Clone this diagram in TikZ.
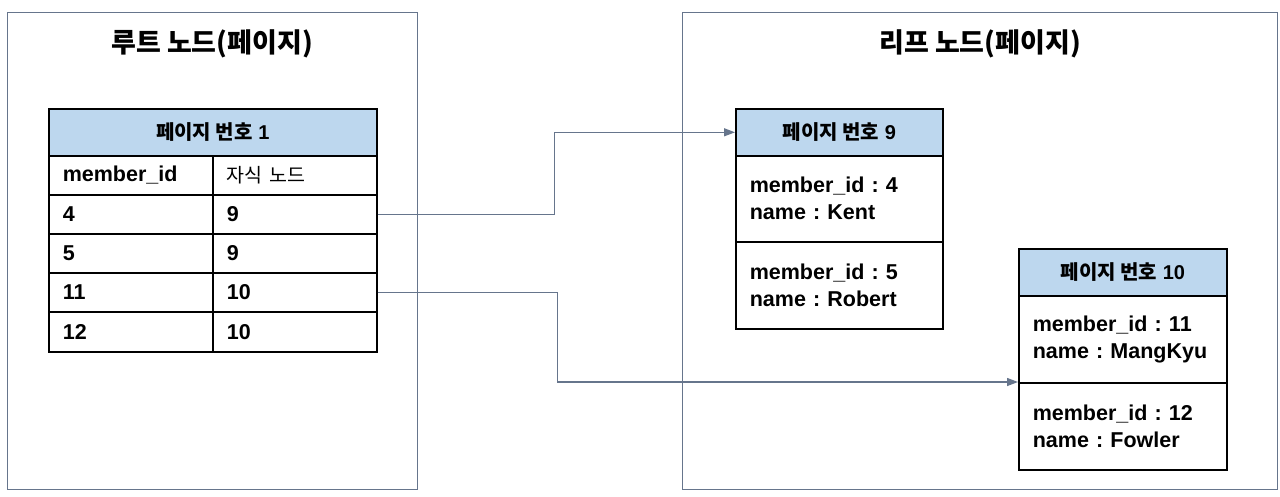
\documentclass[tikz,border=0pt]{standalone}
\usepackage{fontspec}
\setmainfont{Liberation Sans}
\newfontfamily\kr{Noto Sans CJK KR}
\usetikzlibrary{arrows.meta}
\definecolor{frame}{RGB}{102,117,140}
\definecolor{hdr}{RGB}{189,215,238}
\frenchspacing
\tikzset{
  container/.style={draw=frame, line width=1.2pt, anchor=north west, inner sep=0pt, fill=white},
  title/.style={font=\kr\bfseries\fontsize{27}{32}\selectfont, inner sep=0pt},
  hdrcell/.style={draw=black, line width=1.6pt, fill=hdr, anchor=north west, inner sep=0pt,
    font=\bfseries\fontsize{20}{24}\selectfont},
  cell/.style={draw=black, line width=1.6pt, anchor=north west, minimum height=39pt,
    text width=136pt, inner xsep=14pt, inner ysep=0pt, align=left,
    font=\bfseries\fontsize{21.5}{25}\selectfont},
  entry/.style={draw=black, line width=1.6pt, anchor=north west,
    inner xsep=14pt, inner ysep=0pt, align=left,
    font=\frenchspacing\bfseries\fontsize{21.5}{27}\selectfont},
  conn/.style={draw=frame, line width=1.3pt, -{Triangle[length=11pt,width=8pt]}},
}
\begin{document}
\begin{tikzpicture}[x=1pt,y=-1pt]
\useasboundingbox (0,0) rectangle (1280,496);
% containers
\node[container, minimum width=410pt, minimum height=477pt] (rootbox) at (7,12) {};
\node[container, minimum width=595pt, minimum height=477pt] (leafbox) at (682,12) {};
\node[title] (t1) at (212,44) {루트 노드(페이지)};
\node[title] (t2) at (980,44) {리프 노드(페이지)};
% root table
\node[hdrcell, minimum width=328pt, minimum height=47pt] (h1) at (48,108) {{\kr\bfseries 페이지 번호} \textbf{1}};
\node[cell] (c01) at (48,155) {member\_id};
\node[cell] (c02) at (212,155) {\kr\mdseries\fontsize{19.5}{24}\selectfont 자식 노드};
\node[cell] (c11) at (48,194) {4};
\node[cell] (c12) at (212,194) {9};
\node[cell] (c21) at (48,233) {5};
\node[cell] (c22) at (212,233) {9};
\node[cell] (c31) at (48,272) {11};
\node[cell] (c32) at (212,272) {10};
\node[cell, minimum height=40pt] (c41) at (48,311) {12};
\node[cell, minimum height=40pt] (c42) at (212,311) {10};
% leaf page 9
\node[hdrcell, minimum width=207pt, minimum height=47pt] (p9h) at (735,108) {{\kr\bfseries 페이지 번호} \textbf{9}};
\node[entry, text width=179pt, minimum height=86pt] (p9a) at (735,155) {member\_id : 4\\name : Kent};
\node[entry, text width=179pt, minimum height=87pt] (p9b) at (735,241) {member\_id : 5\\name : Robert};
% leaf page 10
\node[hdrcell, minimum width=208pt, minimum height=47pt] (p10h) at (1018,248) {{\kr\bfseries 페이지 번호} \textbf{10}};
\node[entry, text width=180pt, minimum height=87pt] (p10a) at (1018,295) {member\_id : 11\\name : MangKyu};
\node[entry, text width=180pt, minimum height=87pt] (p10b) at (1018,382) {member\_id : 12\\name : Fowler};
% connectors
\draw[conn] (c12.east) -- ++(177,0) |- (p9h.west);
\draw[conn] (c32.east) -- ++(180,0) |- (p10b.north west);
\end{tikzpicture}
\end{document}
